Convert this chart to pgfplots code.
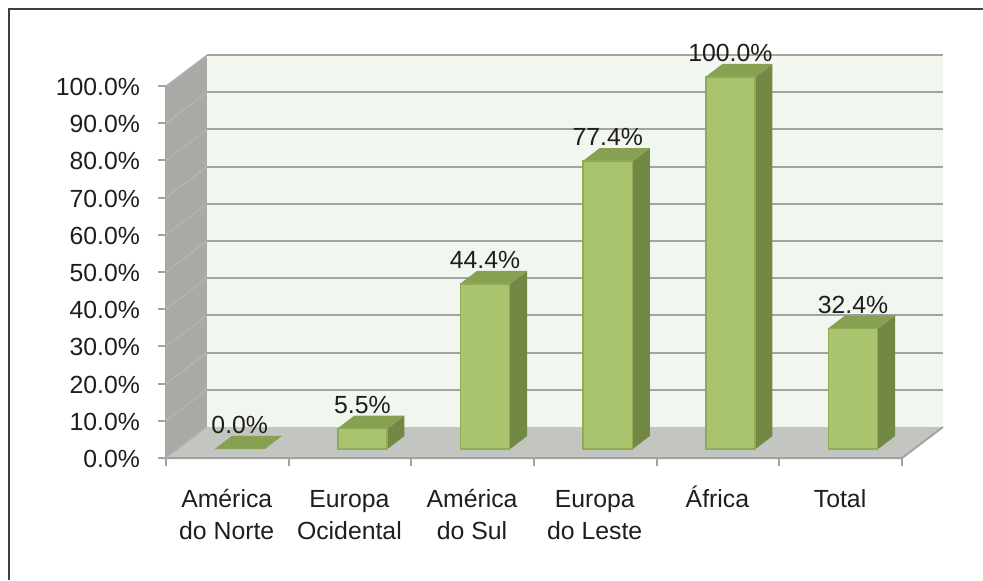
\documentclass[border=0pt]{standalone}
\usepackage{fontspec}
\setmainfont{Liberation Sans}
\usepackage{pgfplots}
\pgfplotsset{compat=1.18}

\definecolor{wallside}{HTML}{A8AAA5}
\definecolor{wallback}{HTML}{F1F6EF}
\definecolor{floorc}{HTML}{C3C5C0}
\definecolor{gridc}{HTML}{A3A4A1}
\definecolor{gridside}{HTML}{B4B6B1}
\definecolor{barfront}{HTML}{A9C46C}
\definecolor{baredge}{HTML}{8FAB57}
\definecolor{bartop}{HTML}{88A052}
\definecolor{barside}{HTML}{738845}
\definecolor{labelc}{HTML}{1E1E1E}

% top and side faces of one bar: category, value
\newcommand{\barfaces}[2]{
  \pgfmathsetmacro{\xa}{#1-0.204}
  \pgfmathsetmacro{\xb}{#1+0.204}
  \pgfmathsetmacro{\xc}{#1+0.343}
  \pgfmathsetmacro{\xd}{#1-0.065}
  \pgfmathsetmacro{\yt}{#2+3.5}
  \addplot[barshift,fill=barside,draw=none,forget plot] coordinates {(\xb,0) (\xc,3.5) (\xc,\yt) (\xb,#2)} -- cycle;
  \addplot[barshift,fill=bartop,draw=none,forget plot] coordinates {(\xa,#2) (\xb,#2) (\xc,\yt) (\xd,\yt)} -- cycle;
}

\begin{document}
\begin{tikzpicture}
\path[use as bounding box] (-83pt,-61pt) rectangle (408.5pt,229pt);
\begin{axis}[
    at={(0,0)},
    anchor=south west,
    scale only axis,
    width=368pt,
    height=186pt,
    clip=false,
    xmin=-0.5, xmax=5.5,
    ymin=0, ymax=100,
    axis x line=bottom,
    axis y line=left,
    axis line style={-,gridc,line width=1pt},
    xtick={-0.5,0.5,1.5,2.5,3.5,4.5,5.5},
    x tick label as interval,
    xticklabels={\vphantom{\'A}Am\'erica\\do Norte,\vphantom{\'A}Europa\\Ocidental,\vphantom{\'A}Am\'erica\\do Sul,\vphantom{\'A}Europa\\do Leste,\'Africa,\vphantom{\'A}Total},
    ytick={0,10,...,100},
    yticklabel={\pgfmathprintnumber[fixed,fixed zerofill,precision=1]{\tick}\%},
    /pgf/number format/assume math mode=true,
    tick style={gridc,line width=1pt},
    major tick length=4pt,
    tick align=outside,
    xticklabel style={font=\fontsize{12.4}{16}\selectfont,text=labelc,align=center,anchor=north,yshift=-6.5pt,xshift=-0.3pt},
    yticklabel style={font=\fontsize{12.4}{16}\selectfont,text=labelc,anchor=east,xshift=-5.5pt,yshift=-0.5pt},
    barshift/.style={xshift=6.2pt,yshift=4.5pt},
  ]
  % walls and floor
  \addplot[fill=wallside,draw=none,forget plot] coordinates {(-0.5,0) (-0.166,8.33) (-0.166,108.33) (-0.5,100)} -- cycle;
  \addplot[fill=floorc,draw=none,forget plot] coordinates {(-0.5,0) (5.5,0) (5.834,8.33) (-0.166,8.33)} -- cycle;
  \addplot[fill=wallback,draw=none,forget plot] coordinates {(-0.166,8.33) (5.834,8.33) (5.834,108.33) (-0.166,108.33)} -- cycle;
  % gridlines
  \pgfplotsinvokeforeach{10,20,...,100}{
    \pgfmathsetmacro{\gy}{#1+8.33}
    \addplot[gridside,line width=0.6pt,forget plot] coordinates {(-0.5,#1) (-0.166,\gy)};
    \addplot[gridc,line width=1pt,forget plot] coordinates {(-0.166,\gy) (5.834,\gy)};
  }
  \addplot[gridc,line width=1pt,forget plot] coordinates {(-0.5,0) (5.5,0) (5.834,8.33)};
  \addplot[gridside,line width=0.6pt,forget plot] coordinates {(-0.5,0) (-0.166,8.33)};
  % bars
  \barfaces{0}{0.0}
  \barfaces{1}{5.5}
  \barfaces{2}{44.4}
  \barfaces{3}{77.4}
  \barfaces{4}{100.0}
  \barfaces{5}{32.4}
  \addplot[ybar,bar width=24.6pt,bar shift=0pt,barshift,fill=barfront,draw=baredge,line width=0.8pt,
      nodes near coords={\pgfmathprintnumber[fixed,fixed zerofill,precision=1]{\pgfplotspointmeta}\%},
      every node near coord/.style={font=\fontsize{12.4}{16}\selectfont,text=labelc,anchor=center,yshift=12pt}]
    coordinates {(1,5.5) (2,44.4) (3,77.4) (4,100.0) (5,32.4)};
  \addplot[only marks,mark=none,barshift,
      nodes near coords={\pgfmathprintnumber[fixed,fixed zerofill,precision=1]{\pgfplotspointmeta}\%},
      every node near coord/.style={font=\fontsize{12.4}{16}\selectfont,text=labelc,anchor=center,yshift=12pt}]
    coordinates {(0,0.0)};
\end{axis}
% outer frame, top and left only
\draw[black!75,line width=1pt] (-78.5pt,-61pt) -- (-78.5pt,224.5pt) -- (408.5pt,224.5pt);
\end{tikzpicture}
\end{document}
